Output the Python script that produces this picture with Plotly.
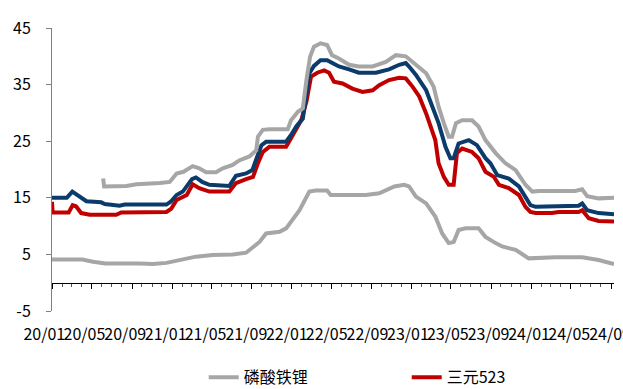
import plotly.graph_objects as go

# 磷酸铁锂 (lower grey line)
lfp_dates = ["2020-01-01", "2020-04-03", "2020-05-05", "2020-06-12", "2020-09-25", "2020-11-03",
             "2020-12-15", "2021-01-25", "2021-03-15", "2021-05-05", "2021-07-05", "2021-08-15",
             "2021-09-05", "2021-09-25", "2021-10-15", "2021-11-25", "2021-12-15", "2022-01-05",
             "2022-01-25", "2022-02-10", "2022-02-24", "2022-03-15", "2022-04-19", "2022-04-30",
             "2022-08-15", "2022-09-25", "2022-11-10", "2022-12-10", "2022-12-25", "2023-01-15",
             "2023-02-15", "2023-03-15", "2023-04-05", "2023-04-25", "2023-05-10", "2023-05-25",
             "2023-06-15", "2023-07-25", "2023-08-15", "2023-09-15", "2023-10-05", "2023-11-15",
             "2023-12-25", "2024-03-15", "2024-06-05", "2024-07-25", "2024-09-10"]
lfp_values = [4.1, 4.1, 3.7, 3.4, 3.4, 3.3,
              3.5, 4.0, 4.6, 4.9, 5.0, 5.3,
              6.2, 7.2, 8.7, 9.0, 9.6, 11.1,
              12.8, 14.6, 16.1, 16.3, 16.3, 15.5,
              15.5, 15.8, 17.0, 17.3, 17.0, 15.2,
              14.0, 11.7, 8.7, 7.0, 7.2, 9.3,
              9.6, 9.6, 8.1, 7.0, 6.4, 5.8,
              4.3, 4.5, 4.5, 4.0, 3.3]

# 三元523 (red line)
ncm523_dates = ["2020-01-01", "2020-01-03", "2020-02-21", "2020-03-04", "2020-03-14", "2020-03-30",
                "2020-04-25", "2020-07-15", "2020-07-30", "2020-12-15", "2020-12-30", "2021-01-15",
                "2021-02-15", "2021-03-05", "2021-03-25", "2021-04-25", "2021-06-25", "2021-07-15",
                "2021-08-15", "2021-09-05", "2021-09-20", "2021-10-05", "2021-10-25", "2021-12-15",
                "2021-12-30", "2022-01-15", "2022-01-30", "2022-02-15", "2022-03-01", "2022-03-20",
                "2022-04-10", "2022-04-25", "2022-05-10", "2022-06-05", "2022-07-05", "2022-08-05",
                "2022-09-05", "2022-09-25", "2022-10-25", "2022-11-25", "2022-12-15", "2023-01-05",
                "2023-01-25", "2023-02-15", "2023-03-01", "2023-03-15", "2023-03-25", "2023-04-10",
                "2023-04-25", "2023-05-10", "2023-05-20", "2023-06-05", "2023-07-05", "2023-07-25",
                "2023-08-15", "2023-09-10", "2023-09-25", "2023-10-25", "2023-11-25", "2023-12-15",
                "2023-12-30", "2024-01-15", "2024-03-05", "2024-03-25", "2024-05-25", "2024-06-05",
                "2024-06-25", "2024-07-25", "2024-09-10"]
ncm523_values = [14.3, 12.4, 12.4, 13.7, 13.5, 12.3,
                 12.0, 12.0, 12.4, 12.5, 13.1, 14.6,
                 15.5, 17.4, 16.7, 16.1, 16.1, 17.6,
                 18.3, 18.7, 21.1, 23.1, 24.0, 24.0,
                 25.5, 27.0, 28.7, 32.0, 36.4, 37.1,
                 37.5, 37.1, 35.5, 35.2, 34.3, 33.7,
                 34.0, 34.9, 35.8, 36.2, 36.1, 34.6,
                 32.9, 29.9, 27.6, 25.2, 21.1, 18.7,
                 17.3, 17.3, 22.9, 23.7, 23.1, 22.0,
                 19.6, 18.7, 17.3, 16.7, 15.5, 13.4,
                 12.5, 12.3, 12.3, 12.5, 12.5, 12.8,
                 11.4, 10.9, 10.8]

# 三元622 (blue line)
ncm622_dates = ["2020-01-01", "2020-02-15", "2020-03-03", "2020-03-19", "2020-04-15", "2020-05-30",
                "2020-06-10", "2020-07-25", "2020-08-10", "2020-12-15", "2020-12-28", "2021-01-15",
                "2021-02-03", "2021-03-03", "2021-03-15", "2021-04-03", "2021-04-25", "2021-06-25",
                "2021-07-15", "2021-08-15", "2021-09-03", "2021-09-18", "2021-10-01", "2021-10-15",
                "2021-12-15", "2021-12-30", "2022-01-15", "2022-02-04", "2022-02-15", "2022-02-24",
                "2022-03-10", "2022-03-30", "2022-04-19", "2022-05-04", "2022-05-25", "2022-06-25",
                "2022-07-25", "2022-09-15", "2022-10-25", "2022-11-25", "2022-12-15", "2022-12-25",
                "2023-01-15", "2023-02-15", "2023-03-05", "2023-03-25", "2023-04-15", "2023-04-30",
                "2023-05-10", "2023-05-25", "2023-06-25", "2023-07-20", "2023-08-15", "2023-08-30",
                "2023-09-20", "2023-10-25", "2023-11-25", "2023-12-15", "2023-12-30", "2024-01-15",
                "2024-05-25", "2024-06-05", "2024-06-20", "2024-07-25", "2024-09-10"]
ncm622_values = [15.0, 15.0, 16.1, 15.5, 14.4, 14.2,
                 13.9, 13.6, 13.8, 13.8, 14.3, 15.5,
                 16.1, 18.3, 18.6, 17.8, 17.3, 17.1,
                 18.9, 19.3, 19.9, 22.3, 24.3, 24.9,
                 24.9, 26.1, 27.6, 29.0, 32.9, 37.0,
                 38.3, 39.3, 39.3, 38.8, 38.2, 37.7,
                 37.1, 37.1, 37.7, 38.5, 38.8, 38.2,
                 36.7, 34.0, 31.1, 28.2, 24.0, 22.0,
                 22.0, 24.6, 25.2, 24.3, 22.0, 21.1,
                 19.0, 18.4, 17.0, 15.2, 13.7, 13.4,
                 13.6, 14.0, 12.8, 12.3, 12.1]

# 三元811 (upper grey line)
ncm811_dates = ["2020-06-05", "2020-06-08", "2020-08-15", "2020-09-15", "2020-11-25", "2020-12-25",
                "2021-01-15", "2021-02-05", "2021-03-05", "2021-03-25", "2021-04-15", "2021-05-15",
                "2021-06-05", "2021-07-05", "2021-07-25", "2021-08-25", "2021-09-15", "2021-09-20",
                "2021-10-05", "2021-10-25", "2021-12-20", "2021-12-30", "2022-01-20", "2022-02-04",
                "2022-02-15", "2022-02-26", "2022-03-10", "2022-03-30", "2022-04-19", "2022-05-04",
                "2022-05-25", "2022-06-25", "2022-07-25", "2022-09-05", "2022-10-15", "2022-11-15",
                "2022-12-15", "2023-01-15", "2023-02-15", "2023-03-10", "2023-03-25", "2023-04-10",
                "2023-04-25", "2023-05-05", "2023-05-17", "2023-06-05", "2023-07-05", "2023-07-25",
                "2023-08-15", "2023-09-15", "2023-10-15", "2023-11-15", "2023-12-15", "2024-01-05",
                "2024-01-25", "2024-05-15", "2024-06-05", "2024-06-20", "2024-07-25", "2024-09-10"]
ncm811_values = [18.4, 17.0, 17.1, 17.4, 17.6, 17.8,
                 19.3, 19.6, 20.6, 20.2, 19.5, 19.5,
                 20.2, 20.8, 21.6, 22.3, 23.4, 25.8,
                 27.0, 27.1, 27.1, 28.7, 30.2, 30.8,
                 35.8, 39.9, 41.7, 42.3, 42.0, 40.2,
                 39.6, 38.5, 38.2, 38.2, 39.0, 40.2,
                 40.0, 38.5, 37.0, 34.6, 31.1, 28.2,
                 25.8, 25.8, 28.2, 28.7, 28.7, 27.6,
                 25.2, 22.9, 21.1, 19.9, 17.3, 16.1,
                 16.2, 16.2, 16.5, 15.3, 14.9, 15.0]

# y-axis ticks (plain hyphen for the negative label)
y_tick_values = [-5, 5, 15, 25, 35, 45]
y_tick_labels = ["-5", "5", "15", "25", "35", "45"]

GREY = "#A6A6A6"
RED = "#C00000"
NAVY = "#0A3B6A"
FONT = "Noto Sans CJK SC, Noto Sans, sans-serif"

W, H = 623, 389
ML, MR = 30, 0              # outer plotting region (month-label axis spans it)
PLOT_L, PLOT_R = 52, 614    # data area in pixels
span = W - ML - MR
data_domain = [(PLOT_L - ML) / span, (PLOT_R - ML) / span]
x_range = ["2020-01-01", "2024-09-10"]
label_range = ["2019-11-19", "2024-10-10"]
y_range = [-5, 45]
zero_frac = (0 - y_range[0]) / (y_range[1] - y_range[0])

fig = go.Figure()
fig.add_trace(go.Scatter(x=lfp_dates, y=lfp_values, name="磷酸铁锂", mode="lines",
                         line=dict(color=GREY, width=4)))
fig.add_trace(go.Scatter(x=ncm523_dates, y=ncm523_values, name="三元523", mode="lines",
                         line=dict(color=RED, width=4)))
fig.add_trace(go.Scatter(x=ncm622_dates, y=ncm622_values, name="三元622", mode="lines",
                         line=dict(color=NAVY, width=4), showlegend=False))
fig.add_trace(go.Scatter(x=ncm811_dates, y=ncm811_values, name="三元811", mode="lines",
                         line=dict(color=GREY, width=4), showlegend=False))
# empty traces that activate the zero-level tick axis and the month-label axis
fig.add_trace(go.Scatter(x=[lfp_dates[0]], y=[None], xaxis="x2", yaxis="y2", mode="lines",
                         showlegend=False, hoverinfo="skip"))
fig.add_trace(go.Scatter(x=[lfp_dates[0]], y=[None], xaxis="x3", yaxis="y3", mode="lines",
                         showlegend=False, hoverinfo="skip"))

fig.update_layout(
    width=W, height=H,
    margin=dict(l=ML, r=MR, t=28, b=78),
    paper_bgcolor="white", plot_bgcolor="rgba(0,0,0,0)",
    font=dict(family=FONT, size=16, color="#000000"),
    # data axis (no decorations of its own)
    xaxis=dict(
        type="date", domain=data_domain, range=x_range, anchor="y",
        showline=False, showgrid=False, zeroline=False, showticklabels=False,
        ticks="", automargin=False,
    ),
    yaxis=dict(
        range=y_range, domain=[0, 1], tickmode="array",
        tickvals=y_tick_values, ticktext=y_tick_labels,
        anchor="x", automargin=False,
        showline=True, linecolor="#808080", linewidth=1,
        showgrid=False, zeroline=False,
        ticks="outside", ticklen=5, tickcolor="#808080",
        ticklabelstandoff=12,
        tickfont=dict(family=FONT, size=16, color="#000000"),
    ),
    # tick axis lying on the zero level
    xaxis2=dict(
        type="date", domain=data_domain, range=x_range, anchor="y2",
        showline=True, linecolor="#000000", linewidth=1,
        showgrid=False, zeroline=False, showticklabels=False, automargin=False,
        tick0="2020-01-01", dtick="M4",
        ticks="outside", ticklen=5, tickcolor="#000000", tickwidth=1,
        minor=dict(dtick="M1", tick0="2020-01-01", ticks="outside", ticklen=3,
                   tickcolor="#555555", tickwidth=1, showgrid=False),
    ),
    yaxis2=dict(domain=[zero_frac, zero_frac + 0.01], visible=False, anchor="x2"),
    # month labels along the bottom edge
    xaxis3=dict(
        type="date", domain=[0, 1], range=label_range,
        anchor="y3", side="bottom", automargin=False,
        showline=False, showgrid=False, zeroline=False,
        tick0="2020-01-01", dtick="M4", tickformat="%y/%m", tickangle=0,
        ticks="", ticklabelstandoff=12, ticklabeloverflow="allow",
        tickfont=dict(family=FONT, size=16, color="#000000"),
    ),
    yaxis3=dict(domain=[0, 0.01], visible=False, anchor="x3"),
    legend=dict(
        orientation="h", xref="container", yref="container",
        x=0.327, y=0.03, xanchor="left", yanchor="middle",
        entrywidth=158, font=dict(family=FONT, size=16, color="#000000"),
        bgcolor="rgba(0,0,0,0)",
    ),
    showlegend=True,
)

fig.write_html("out.html")
